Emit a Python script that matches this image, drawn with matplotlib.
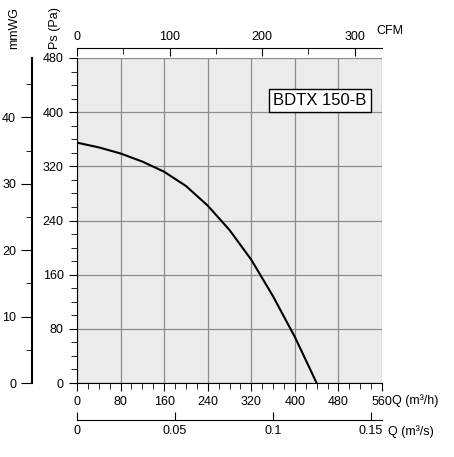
import matplotlib.pyplot as plt
from matplotlib.ticker import MultipleLocator

# Fan curve BDTX 150-B
q_m3h = [0, 40, 80, 120, 160, 200, 240, 280, 320, 360, 400, 440]
ps_pa = [355, 348, 339, 327, 312, 291, 262, 226, 182, 128, 68, 0]

plt.rcParams['font.family'] = ['Liberation Sans', 'DejaVu Sans']
plt.rcParams['font.size'] = 9

fig = plt.figure(figsize=(4.54, 4.57), dpi=100)
ax = fig.add_axes([77/454, 1 - 383/457, 305/454, 325/457])
ax.set_facecolor('#ebebeb')
ax.plot(q_m3h, ps_pa, color='black', lw=1.5)
ax.set_xlim(0, 560)
ax.set_ylim(0, 480)
ax.xaxis.set_major_locator(MultipleLocator(80))
ax.xaxis.set_minor_locator(MultipleLocator(20))
ax.yaxis.set_major_locator(MultipleLocator(80))
ax.yaxis.set_minor_locator(MultipleLocator(20))
ax.grid(True, which='major', color='#8c8c8c', lw=0.9)
ax.tick_params(which='major', length=6, direction='out')
ax.tick_params(which='minor', length=4, direction='out')
for s in ['top', 'right']:
    ax.spines[s].set_visible(False)
fig.text(392/454, 1 - 401/457, 'Q (m³/h)', ha='left', va='center')

ax.text(0.95, 0.87, 'BDTX 150-B', transform=ax.transAxes, ha='right', va='center',
        fontsize=12, bbox=dict(facecolor='white', edgecolor='black', pad=3))

# top CFM axis (outward offsets are in points: px * 0.72)
top = ax.secondary_xaxis('top', functions=(lambda x: x / 1.699, lambda x: x * 1.699))
top.spines['top'].set_position(('outward', 7.2))
top.xaxis.set_major_locator(MultipleLocator(100))
top.xaxis.set_minor_locator(MultipleLocator(50))
top.tick_params(which='minor', direction='in', length=4)
top.tick_params(which='major', direction='in', length=6)
fig.text(376/454, 1 - 31/457, 'CFM', ha='left', va='center', fontsize=9)

# bottom m3/s axis
bot = ax.secondary_xaxis('bottom', functions=(lambda x: x / 3600, lambda x: x * 3600))
bot.spines['bottom'].set_position(('outward', 26.6))
bot.set_xticks([0, 0.05, 0.1, 0.15], ['0', '0.05', '0.1', '0.15'])
bot.tick_params(which='major', direction='in', length=6)
bot.tick_params(which='minor', length=0)
fig.text(388/454, 1 - 432/457, 'Q (m³/s)', ha='left', va='center', fontsize=9)

# left mmWG axis
mm = ax.secondary_yaxis('left', functions=(lambda y: y / 9.81, lambda y: y * 9.81))
mm.spines['left'].set_position(('outward', 32.4))
mm.spines['left'].set_linewidth(1.5)
mm.yaxis.set_major_locator(MultipleLocator(10))
mm.yaxis.set_minor_locator(MultipleLocator(5))
mm.tick_params(which='major', length=8)
mm.tick_params(which='minor', length=4)

fig.text(14/454, 1 - 28/457, 'mmWG', rotation=90, ha='center', va='center')
fig.text(55/454, 1 - 28/457, 'Ps (Pa)', rotation=90, ha='center', va='center')

fig.savefig('out.png', dpi=100)
